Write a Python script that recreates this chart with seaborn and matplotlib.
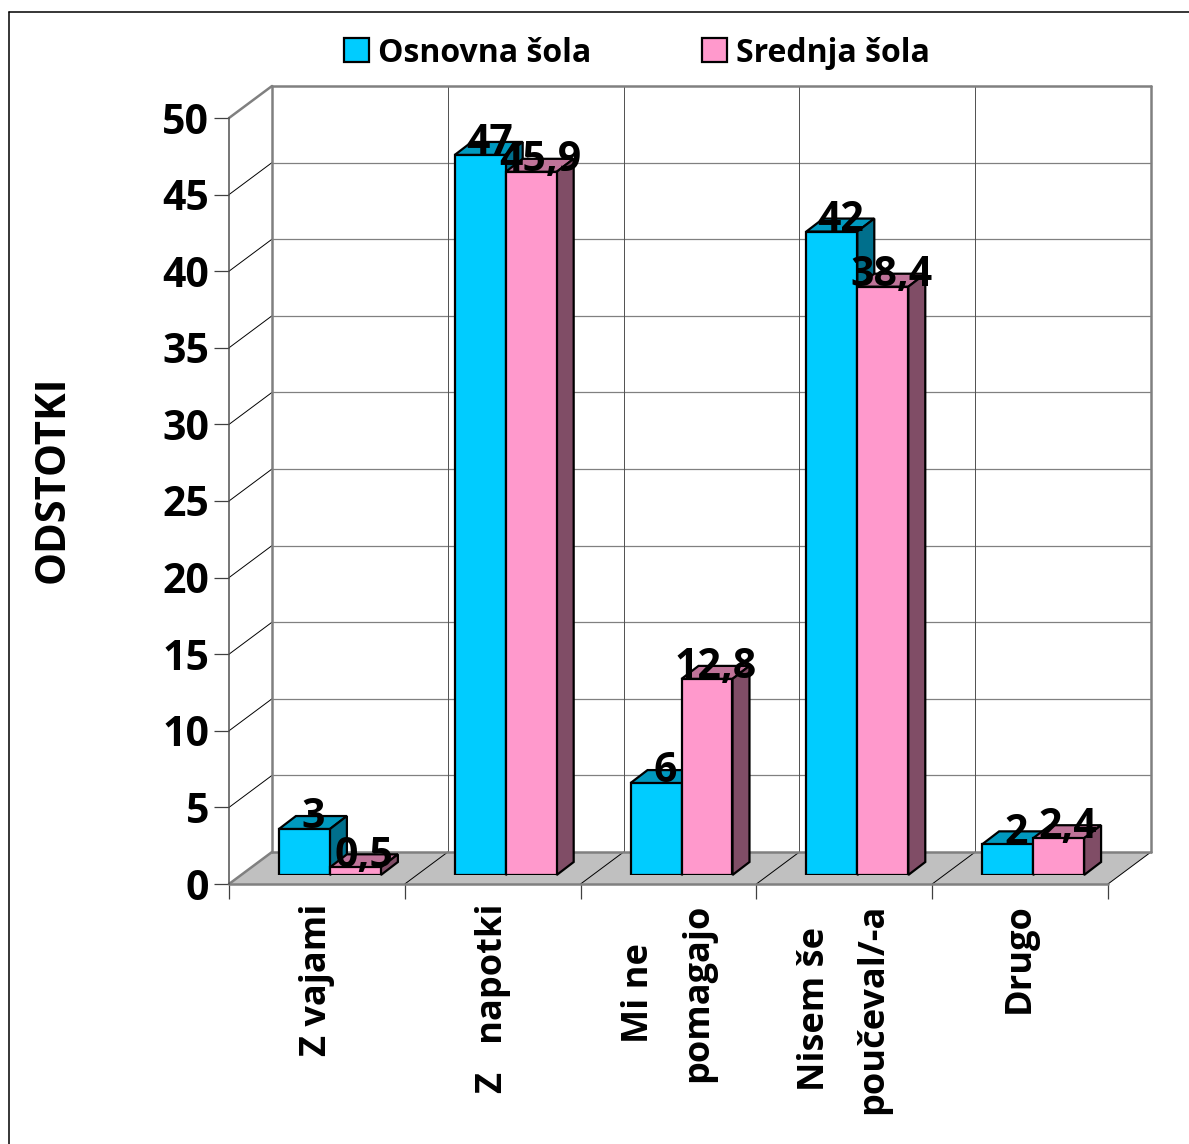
import numpy as np
import pandas as pd
import matplotlib
matplotlib.use("Agg")
import matplotlib.pyplot as plt
from matplotlib.lines import Line2D
from matplotlib.patches import Polygon
import seaborn as sns

# ================= DATA =================
kategorije = ["Z vajami", "Z   napotki", "Mi ne\n\npomagajo", "Nisem še\n\npoučeval/-a", "Drugo"]
osnovna = [3, 47, 6, 42, 2]
srednja = [0.5, 45.9, 12.8, 38.4, 2.4]
sole = ["Osnovna šola", "Srednja šola"]
y_ticks = [0, 5, 10, 15, 20, 25, 30, 35, 40, 45, 50]

# ================= COLOURS =================
barve = {"Osnovna šola": "#00CCFF", "Srednja šola": "#FF99CC"}
vrh = ["#0099BF", "#BF7399"]
bok = ["#006F8C", "#804D66"]
SIVA = "#808080"

# ================= LAYOUT (pixels) =================
W, H = 1189, 1144
LEFT, RIGHT, TOP, BOTTOM = 229, 1108, 118, 884
WALL_DX, WALL_DY = 43, 32
BAR_DX, BAR_DY = 13, 9
DEPTH_DX, DEPTH_DY = 17, 13

sns.set_theme(style="white")
plt.rcParams["font.family"] = ["Open Sans", "DejaVu Sans"]
plt.rcParams["font.weight"] = "bold"
plt.rcParams["text.color"] = "black"
plt.rcParams["xtick.labelcolor"] = "black"
plt.rcParams["ytick.labelcolor"] = "black"

fig = plt.figure(figsize=(W / 100, H / 100), dpi=100, facecolor="white")


def box(dx=0, dy=0):
    return [(LEFT + dx) / W, 1 - (BOTTOM - dy) / H, (RIGHT - LEFT) / W, (BOTTOM - TOP) / H]


ax = fig.add_axes(box())
ax_b = fig.add_axes(box(BAR_DX, BAR_DY))
ax_b.patch.set_alpha(0)

df = pd.DataFrame({
    "kategorija": kategorije * 2,
    "sola": [sole[0]] * 5 + [sole[1]] * 5,
    "delez": osnovna + srednja,
})

# ================= BARS =================
sns.barplot(
    data=df, x="kategorija", y="delez", hue="sola", palette=barve,
    width=0.58, saturation=1, edgecolor="black", linewidth=1.6, ax=ax_b,
)

for a in (ax, ax_b):
    a.set_xlim(-0.5, 4.5)
    a.set_ylim(0, 50)

px_x = (RIGHT - LEFT) / 5
px_y = (BOTTOM - TOP) / 50
dx, dy = DEPTH_DX / px_x, DEPTH_DY / px_y

for i, cont in enumerate(ax_b.containers):
    for bar in cont:
        x0, w, h = bar.get_x(), bar.get_width(), bar.get_height()
        x1 = x0 + w
        z = 3 + 2 * i
        bar.set_zorder(z + 1)
        ax_b.add_patch(Polygon([(x0, h), (x1, h), (x1 + dx, h + dy), (x0 + dx, h + dy)],
                               fc=vrh[i], ec="black", lw=1.6, zorder=z, clip_on=False))
        ax_b.add_patch(Polygon([(x1, 0), (x1, h), (x1 + dx, h + dy), (x1 + dx, dy)],
                               fc=bok[i], ec="black", lw=1.6, zorder=z, clip_on=False))
        ax_b.annotate(f"{h:g}".replace(".", ","), (x0 + w / 2, h), xytext=(6.5, 8),
                      textcoords="offset points", ha="center", va="center",
                      fontsize=29.5, color="black", zorder=10, annotation_clip=False)

ax_b.set_axis_off()

# ================= 3D WALLS =================
wx, wy = WALL_DX / px_x, WALL_DY / px_y
ax.add_patch(Polygon([(-0.5, 0), (-0.5 + wx, wy), (4.5 + wx, wy), (4.5, 0)],
                     fc="#C0C0C0", ec="none", zorder=1, clip_on=False))
for v in y_ticks[1:-1]:
    ax.plot([-0.5 + wx, 4.5 + wx], [v + wy, v + wy], color=SIVA, lw=0.9, zorder=1, clip_on=False)
    ax.plot([-0.5, -0.5 + wx], [v, v + wy], color="black", lw=0.7, zorder=1, clip_on=False)
for m in np.arange(0.5, 4):
    ax.plot([m + wx, m + wx], [wy, 50 + wy], color="#505050", lw=0.7, zorder=1, clip_on=False)
    ax.plot([m, m + wx], [0, wy], color="black", lw=0.7, zorder=2, clip_on=False)
ax.plot([4.5, 4.5 + wx], [0, wy], color="black", lw=0.7, zorder=2, clip_on=False)
# back wall frame
ax.plot([-0.5 + wx, -0.5 + wx], [wy, 50 + wy], color=SIVA, lw=1.8, zorder=2, clip_on=False)
ax.plot([-0.5 + wx, 4.5 + wx], [50 + wy, 50 + wy], color=SIVA, lw=1.8, zorder=2, clip_on=False)
ax.plot([4.5 + wx, 4.5 + wx], [wy, 50 + wy], color=SIVA, lw=1.8, zorder=2, clip_on=False)
ax.plot([-0.5 + wx, 4.5 + wx], [wy, wy], color=SIVA, lw=1.8, zorder=2, clip_on=False)
ax.plot([-0.5, -0.5 + wx], [50, 50 + wy], color=SIVA, lw=1.8, zorder=2, clip_on=False)
ax.plot([-0.5, -0.5 + wx], [0, wy], color=SIVA, lw=1.8, zorder=2, clip_on=False)
ax.plot([-0.5, 4.5], [0, 0], color=SIVA, lw=1.8, zorder=2, clip_on=False)

# ================= AXES =================
for s in ("top", "right", "bottom"):
    ax.spines[s].set_visible(False)
ax.spines["left"].set_color("#505050")
ax.spines["left"].set_linewidth(1.1)
ax.patch.set_alpha(0)

ax.set_yticks(y_ticks)
ax.tick_params(axis="y", left=True, length=10.8, width=0.9, color="#404040",
               labelsize=29.5, pad=3.5)
ax.set_xticks(np.arange(5), labels=kategorije, minor=True)
ax.set_xticks([-0.5, 0.5, 1.5, 2.5, 3.5, 4.5], labels=[""] * 6)
ax.tick_params(axis="x", which="major", bottom=True, length=10.8, width=0.9, color="#404040")
ax.tick_params(axis="x", which="minor", bottom=False, length=0, pad=14, labelsize=26)
for t in ax.get_xticklabels(minor=True):
    t.set_rotation(90)
    t.set_va("top")
    t.set_ha("center")
    t.set_multialignment("center")
    t.set_linespacing(0.75)

fig.text(53 / W, 1 - 479 / H, "ODSTOTKI", rotation=90, ha="center", va="center",
         fontsize=30, color="black")

# ================= LEGEND =================
sns.move_legend(
    ax_b, loc="center left", bbox_to_anchor=(344 / W, 1 - 53 / H),
    bbox_transform=fig.transFigure, ncols=2, title=None, frameon=False,
    fontsize=23, borderpad=0, borderaxespad=0, handlelength=0.78, handleheight=0.78,
    handletextpad=0.3, columnspacing=3.45,
)
for p in ax_b.get_legend().get_patches():
    p.set_edgecolor("black")
    p.set_linewidth(1.6)

# ================= PAGE BORDER =================
fig.add_artist(Line2D([8.5 / W, 8.5 / W], [0, 1 - 11.5 / H], color="black", lw=1.1))
fig.add_artist(Line2D([8.5 / W, 1], [1 - 11.5 / H, 1 - 11.5 / H], color="black", lw=1.1))

fig.savefig("out.png", dpi=100)
